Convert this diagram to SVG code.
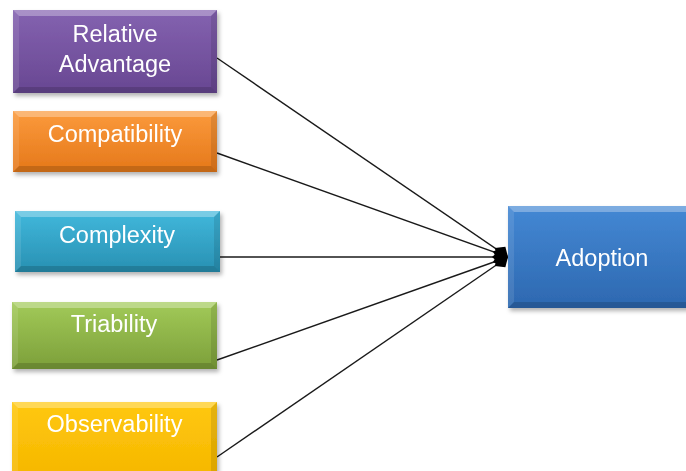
<svg xmlns="http://www.w3.org/2000/svg" width="686" height="471" viewBox="0 0 686 471">
  <style>
    .lbl { font-family: "Liberation Sans", Arial, sans-serif; font-size: 23.5px; fill: #ffffff; text-anchor: middle; }
    .bt { fill: #ffffff; fill-opacity: 0.3; }
    .bl { fill: #ffffff; fill-opacity: 0.1; }
    .br { fill: #000000; fill-opacity: 0.1; }
    .bb { fill: #000000; fill-opacity: 0.15; }
    .box { filter: url(#shadow); }
    .conn { stroke: #1a1a1a; stroke-width: 1.4; fill: none; marker-end: url(#diamond); }
  </style>
  <defs>
    <filter id="shadow" x="-10%" y="-10%" width="125%" height="130%">
      <feDropShadow dx="2" dy="3" stdDeviation="2" flood-color="#000000" flood-opacity="0.3"/>
    </filter>
    <marker id="diamond" markerUnits="userSpaceOnUse" markerWidth="20" markerHeight="18" refX="17" refY="9" orient="auto">
      <path d="M1,9 L9,2 L17,9 L9,16 Z" fill="#000000"/>
    </marker>
    <linearGradient id="gPurple" x1="0" y1="0" x2="0" y2="1">
      <stop offset="0" stop-color="#8462b0"/>
      <stop offset="1" stop-color="#684792"/>
    </linearGradient>
    <linearGradient id="gOrange" x1="0" y1="0" x2="0" y2="1">
      <stop offset="0" stop-color="#fb9a3c"/>
      <stop offset="1" stop-color="#e5781a"/>
    </linearGradient>
    <linearGradient id="gCyan" x1="0" y1="0" x2="0" y2="1">
      <stop offset="0" stop-color="#41b8dc"/>
      <stop offset="1" stop-color="#2890b2"/>
    </linearGradient>
    <linearGradient id="gGreen" x1="0" y1="0" x2="0" y2="1">
      <stop offset="0" stop-color="#a2ca58"/>
      <stop offset="1" stop-color="#7c9f3a"/>
    </linearGradient>
    <linearGradient id="gYellow" x1="0" y1="0" x2="0" y2="1">
      <stop offset="0" stop-color="#ffc80e"/>
      <stop offset="1" stop-color="#f5b600"/>
    </linearGradient>
    <linearGradient id="gBlue" x1="0" y1="0" x2="0" y2="1">
      <stop offset="0" stop-color="#4488d4"/>
      <stop offset="1" stop-color="#2d68b0"/>
    </linearGradient>
  </defs>

  <rect width="686" height="471" fill="#ffffff"/>

  <!-- connectors: every factor feeds into Adoption -->
  <g id="connectors">
    <line class="conn" x1="217" y1="58" x2="508" y2="257"/>
    <line class="conn" x1="217" y1="153" x2="508" y2="257"/>
    <line class="conn" x1="220" y1="257" x2="508" y2="257"/>
    <line class="conn" x1="217" y1="360" x2="508" y2="257"/>
    <line class="conn" x1="217" y1="457" x2="508" y2="257"/>
  </g>

  <g id="relative-advantage" class="box">
    <rect x="13" y="10" width="204" height="83" fill="url(#gPurple)"/>
    <polygon class="bt" points="13,10 217,10 211,16 19,16"/>
    <polygon class="bl" points="13,10 19,16 19,87 13,93"/>
    <polygon class="br" points="217,10 217,93 211,87 211,16"/>
    <polygon class="bb" points="13,93 217,93 211,87 19,87"/>
    <text class="lbl" x="115" y="42">Relative</text>
    <text class="lbl" x="115" y="72">Advantage</text>
  </g>

  <g id="compatibility" class="box">
    <rect x="13" y="111" width="204" height="61" fill="url(#gOrange)"/>
    <polygon class="bt" points="13,111 217,111 211,117 19,117"/>
    <polygon class="bl" points="13,111 19,117 19,166 13,172"/>
    <polygon class="br" points="217,111 217,172 211,166 211,117"/>
    <polygon class="bb" points="13,172 217,172 211,166 19,166"/>
    <text class="lbl" x="115" y="142">Compatibility</text>
  </g>

  <g id="complexity" class="box">
    <rect x="15" y="211" width="205" height="61" fill="url(#gCyan)"/>
    <polygon class="bt" points="15,211 220,211 214,217 21,217"/>
    <polygon class="bl" points="15,211 21,217 21,266 15,272"/>
    <polygon class="br" points="220,211 220,272 214,266 214,217"/>
    <polygon class="bb" points="15,272 220,272 214,266 21,266"/>
    <text class="lbl" x="117" y="243">Complexity</text>
  </g>

  <g id="triability" class="box">
    <rect x="12" y="302" width="205" height="67" fill="url(#gGreen)"/>
    <polygon class="bt" points="12,302 217,302 211,308 18,308"/>
    <polygon class="bl" points="12,302 18,308 18,363 12,369"/>
    <polygon class="br" points="217,302 217,369 211,363 211,308"/>
    <polygon class="bb" points="12,369 217,369 211,363 18,363"/>
    <text class="lbl" x="114" y="332">Triability</text>
  </g>

  <g id="observability" class="box">
    <rect x="12" y="402" width="205" height="80" fill="url(#gYellow)"/>
    <polygon class="bt" points="12,402 217,402 211,408 18,408"/>
    <polygon class="bl" points="12,402 18,408 18,476 12,482"/>
    <polygon class="br" points="217,402 217,482 211,476 211,408"/>
    <text class="lbl" x="114.5" y="432">Observability</text>
  </g>

  <g id="adoption" class="box">
    <rect x="508" y="206" width="190" height="102" fill="url(#gBlue)"/>
    <polygon class="bt" points="508,206 698,206 692,212 514,212"/>
    <polygon class="bl" points="508,206 514,212 514,302 508,308"/>
    <polygon class="bb" points="508,308 698,308 692,302 514,302"/>
    <text class="lbl" x="602" y="266">Adoption</text>
  </g>
</svg>
